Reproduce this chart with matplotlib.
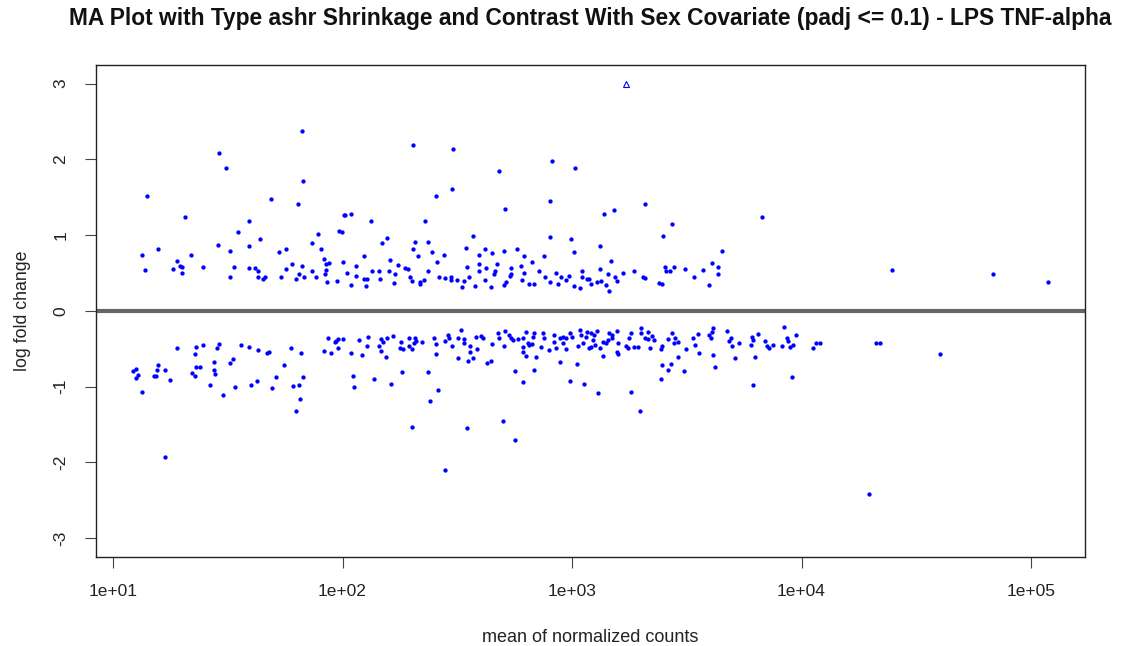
import numpy as np
import matplotlib
matplotlib.use("Agg")
import matplotlib.pyplot as plt
from matplotlib.ticker import FixedLocator, NullLocator

plt.rcParams["font.family"] = ["Liberation Sans", "DejaVu Sans"]

# significant genes with positive log fold change: (mean of normalized counts, lfc)
up_mean = [66.5, 28.9, 31, 67, 14.1, 49, 63.8, 20.6, 39, 102, 35, 78, 97, 43.6, 28.6, 39, 74,
           13.4, 15.7, 21.8, 32.3, 52.8, 57, 81, 13.8, 19, 18.2, 19.6, 20, 20, 24.7, 33.6, 32.3,
           39, 41.5, 43, 43, 45, 46, 54, 56.6, 60, 63, 64.5, 66.5, 67.8, 74, 76.5, 82.8, 84.5,
           87, 85, 84, 86, 95, 101,
           202, 302, 815, 479, 1035, 299, 255, 798, 508, 103, 109, 133, 228, 99, 369, 157, 148,
           206, 235, 798, 986, 202, 344, 416, 503, 573, 1025, 124, 213, 245, 276, 395, 446, 615,
           752, 161, 257, 114, 174, 395, 469, 667, 347, 421, 540, 597, 715, 105, 134, 144, 159,
           188, 192, 235, 392, 460, 540, 615, 848, 1100, 114, 169, 196, 262, 279, 296, 355, 455,
           535, 603, 759, 891, 966, 1100, 124, 128, 145, 200, 217, 226, 296, 314, 340, 416, 514,
           647, 680, 798, 873, 946, 1167, 109, 126, 167, 217, 330, 376, 442, 503, 1015, 1078,
           2070, 1383, 1531, 6745, 2735, 2500, 1330, 4520, 1472, 4090, 4345, 2529, 2793, 1330,
           1854, 2578, 2685, 3120, 3735, 1430, 1676, 4345, 1545, 2028, 2070, 3413, 1180, 1343,
           1578, 1291, 1205, 1413, 2404, 2455, 3963, 1455,
           24830, 68390, 118600]
up_lfc = [2.37, 2.09, 1.88, 1.72, 1.51, 1.48, 1.41, 1.24, 1.19, 1.26, 1.04, 1.02, 1.06, 0.95, 0.87,
          0.85, 0.89, 0.74, 0.81, 0.74, 0.79, 0.78, 0.81, 0.81, 0.54, 0.66, 0.55, 0.59, 0.58, 0.50,
          0.58, 0.58, 0.45, 0.57, 0.56, 0.52, 0.45, 0.42, 0.45, 0.45, 0.55, 0.62, 0.42, 0.48, 0.59,
          0.45, 0.53, 0.45, 0.69, 0.62, 0.63, 0.54, 0.48, 0.38, 0.40, 0.65,
          2.19, 2.14, 1.98, 1.85, 1.89, 1.61, 1.51, 1.45, 1.35, 1.26, 1.28, 1.18, 1.19, 1.04, 0.99,
          0.96, 0.90, 0.91, 0.91, 0.98, 0.95, 0.81, 0.83, 0.82, 0.79, 0.81, 0.78, 0.73, 0.73, 0.78,
          0.74, 0.74, 0.77, 0.73, 0.73, 0.67, 0.65, 0.59, 0.61, 0.62, 0.62, 0.65, 0.58, 0.57, 0.57,
          0.59, 0.53, 0.50, 0.53, 0.52, 0.52, 0.57, 0.55, 0.53, 0.52, 0.53, 0.48, 0.50, 0.50, 0.52,
          0.46, 0.48, 0.45, 0.45, 0.44, 0.45, 0.45, 0.48, 0.46, 0.41, 0.45, 0.45, 0.46, 0.45, 0.42,
          0.42, 0.42, 0.40, 0.38, 0.41, 0.41, 0.41, 0.40, 0.41, 0.38, 0.36, 0.36, 0.38, 0.36, 0.41,
          0.42, 0.34, 0.33, 0.37, 0.36, 0.32, 0.33, 0.32, 0.34, 0.33, 0.30,
          1.41, 1.28, 1.33, 1.24, 1.15, 0.99, 0.86, 0.79, 0.66, 0.63, 0.58, 0.58, 0.58, 0.55, 0.53,
          0.53, 0.53, 0.55, 0.54, 0.48, 0.50, 0.48, 0.45, 0.45, 0.44, 0.45, 0.42, 0.40, 0.40, 0.38,
          0.36, 0.34, 0.37, 0.36, 0.34, 0.26,
          0.54, 0.49, 0.38]

# significant genes with negative log fold change
down_mean = [19, 23, 24.7, 28.9, 28.4, 22.7, 36, 39, 42.8, 46.8, 47.7, 59.6, 65.8, 86.3, 92.5,
             95.3, 100, 93.5, 82.8, 89, 96, 33.3, 32.3, 27.5, 15.7, 15.5, 16.8, 12.2, 12.6, 12.8,
             12.6, 15.1, 15.4, 17.7, 23, 23.9, 22.1, 22.7, 27.5, 27.8, 55.5, 51.2, 42.4, 39.9, 34,
             26.4, 30.1, 49.2, 60.7, 64.5, 67.2, 65.2, 62.6, 13.4, 16.8,
             118, 129, 128, 109, 122, 147, 150, 144, 147, 154, 166, 157, 179, 178, 183, 194, 194,
             200, 206, 210, 204, 221, 250, 255, 255, 287, 290, 281, 299, 318, 327, 318, 340, 340,
             358, 358, 351, 369, 384, 380, 408, 400, 446, 425, 442, 474, 483, 508, 503, 530, 540,
             551, 579, 609, 628, 609, 609, 628, 640, 647, 673, 680, 667, 694, 745, 752, 730, 791,
             831, 831, 848, 883, 918, 910, 946, 946, 976, 995, 1057, 1078, 1089, 1122, 1156, 1180,
             883, 1047, 111, 112, 137, 162, 181, 235, 260, 240, 562, 609, 680, 976, 1133, 200, 347,
             498, 562, 281,
             1167, 1205, 1291, 1242, 1230, 1205, 1265, 1330, 1358, 1371, 1413, 1430, 1455, 1500,
             1500, 1578, 1593, 1578, 1593, 1726, 1778, 1815, 1762, 1871, 1946, 2004, 2004, 2070,
             2133, 2153, 2239, 2196, 2266, 2455, 2430, 2630, 2735, 2820, 2903, 2793, 3148, 2903,
             2455, 2710, 2607, 3090, 2430, 3380, 3556, 3450, 3590, 3963, 4090, 4130, 4045, 4130,
             4217, 4753, 4853, 4946, 5000, 5150, 5360, 6110, 6040, 6170, 6490, 6300, 6950, 7100,
             7200, 7530, 8240, 8410, 8670, 8750, 8940, 9200, 9480, 11240, 11590, 12070, 6170, 9120,
             1303, 1815, 1968,
             21200, 22000, 40180, 19730]
down_lfc = [-0.49, -0.48, -0.45, -0.44, -0.49, -0.57, -0.45, -0.48, -0.52, -0.55, -0.54, -0.49,
            -0.55, -0.36, -0.41, -0.37, -0.37, -0.40, -0.53, -0.55, -0.49, -0.63, -0.69, -0.67,
            -0.71, -0.78, -0.78, -0.79, -0.77, -0.85, -0.89, -0.86, -0.86, -0.91, -0.74, -0.74,
            -0.82, -0.86, -0.78, -0.83, -0.71, -0.87, -0.93, -0.98, -1.00, -0.98, -1.11, -1.02,
            -0.99, -0.98, -0.87, -1.16, -1.32, -1.07, -1.93,
            -0.38, -0.34, -0.46, -0.55, -0.58, -0.37, -0.41, -0.46, -0.53, -0.61, -0.33, -0.36,
            -0.41, -0.49, -0.50, -0.36, -0.46, -0.50, -0.36, -0.40, -0.42, -0.41, -0.36, -0.44,
            -0.57, -0.32, -0.36, -0.40, -0.46, -0.36, -0.25, -0.62, -0.37, -0.42, -0.46, -0.54,
            -0.66, -0.62, -0.50, -0.34, -0.36, -0.33, -0.44, -0.69, -0.66, -0.29, -0.36, -0.26,
            -0.46, -0.32, -0.36, -0.38, -0.37, -0.36, -0.28, -0.48, -0.54, -0.59, -0.42, -0.45,
            -0.34, -0.29, -0.44, -0.61, -0.29, -0.36, -0.48, -0.52, -0.32, -0.41, -0.49, -0.36,
            -0.34, -0.42, -0.36, -0.50, -0.29, -0.34, -0.46, -0.25, -0.32, -0.42, -0.34, -0.49,
            -0.67, -0.70, -0.86, -1.00, -0.90, -0.96, -0.81, -0.81, -1.04, -1.19, -0.79, -0.94,
            -0.78, -0.93, -0.96, -1.53, -1.55, -1.45, -1.70, -2.10,
            -0.28, -0.29, -0.26, -0.32, -0.38, -0.48, -0.45, -0.49, -0.59, -0.41, -0.42, -0.38,
            -0.29, -0.32, -0.36, -0.26, -0.42, -0.54, -0.57, -0.46, -0.36, -0.29, -0.49, -0.48,
            -0.48, -0.22, -0.29, -0.36, -0.37, -0.28, -0.33, -0.49, -0.38, -0.46, -0.50, -0.37,
            -0.29, -0.36, -0.41, -0.42, -0.50, -0.61, -0.71, -0.70, -0.78, -0.79, -0.90, -0.36,
            -0.30, -0.45, -0.55, -0.32, -0.28, -0.22, -0.36, -0.58, -0.74, -0.26, -0.40, -0.36,
            -0.46, -0.62, -0.42, -0.34, -0.45, -0.38, -0.30, -0.61, -0.40, -0.46, -0.49, -0.45,
            -0.46, -0.21, -0.36, -0.40, -0.48, -0.45, -0.32, -0.49, -0.42, -0.42, -0.98, -0.87,
            -1.08, -1.07, -1.32,
            -0.42, -0.43, -0.57, -2.42]

# genes beyond the y limit, drawn at the limit as open triangles
clip_mean = [1726]
clip_lfc = [3.0]

x_ticks = [1e1, 1e2, 1e3, 1e4, 1e5]
x_labels = ["1e+01", "1e+02", "1e+03", "1e+04", "1e+05"]
y_ticks = [-3, -2, -1, 0, 1, 2, 3]

fig = plt.figure(figsize=(11.26, 6.46), dpi=100)
ax = fig.add_axes([96 / 1126, 1 - 556.7 / 646, (1085 - 96) / 1126, (556.7 - 65) / 646])

ax.plot(up_mean, up_lfc, "o", color="#0000ff", ms=3.1, mew=0, zorder=3)
ax.plot(down_mean, down_lfc, "o", color="#0000ff", ms=3.1, mew=0, zorder=3)
ax.plot(clip_mean, clip_lfc, "^", mfc="none", mec="#0000ff", ms=5, mew=0.8, zorder=3)
ax.axhline(0, color="#666666", lw=3, zorder=2)

ax.set_xscale("log")
ax.set_xlim(10 ** 0.926, 10 ** 5.235)
ax.set_ylim(-3.245, 3.245)
ax.xaxis.set_major_locator(FixedLocator(x_ticks))
ax.xaxis.set_minor_locator(NullLocator())
ax.set_xticklabels(x_labels)
ax.set_yticks(y_ticks)
ax.set_yticklabels([str(v) for v in y_ticks])

ax.tick_params(axis="both", direction="out", length=8, width=0.8, color="#444444",
               labelsize=12.5, labelcolor="#222222")
ax.tick_params(axis="x", pad=12)
ax.tick_params(axis="y", pad=12)
for lab in ax.get_yticklabels():
    lab.set_rotation(90)
    lab.set_va("center")
for sp in ax.spines.values():
    sp.set_linewidth(1.0)
    sp.set_color("#222222")

ax.set_xlabel("mean of normalized counts", fontsize=13, color="#222222", labelpad=21)
ax.set_ylabel("log fold change", fontsize=12.8, color="#222222", labelpad=16)
fig.text(0.5 * (96 + 1085) / 1126, 1 - 18 / 646,
         "MA Plot with Type ashr Shrinkage and Contrast With Sex Covariate (padj <= 0.1) - LPS TNF-alpha",
         ha="center", va="center", fontsize=16.4, fontweight="bold", color="#111111")

fig.savefig("out.png", dpi=100)
plt.close(fig)
